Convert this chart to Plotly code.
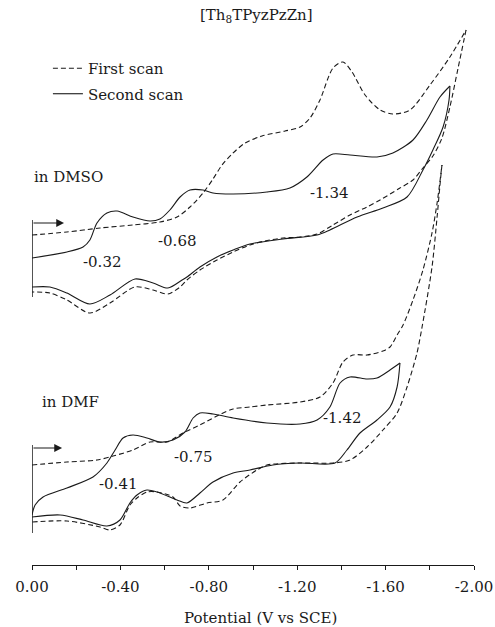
import plotly.graph_objects as go

# Cyclic voltammograms of [Th8TPyzPzZn] in DMSO and DMF.
# Potential in V vs SCE; current in arbitrary units (each solvent's pair of
# scans is offset vertically, DMSO above DMF).

# ---- DMSO, first scan (dashed) ----
dmso1_fwd_E = [0.000, -0.158, -0.308, -0.457, -0.579, -0.656, -0.715, -0.774, -0.819,
               -0.860, -0.905, -0.964, -1.041, -1.145, -1.213, -1.258, -1.303, -1.362,
               -1.407, -1.448, -1.507, -1.575, -1.633, -1.710, -1.801, -1.891, -1.964]
dmso1_fwd_I = [330, 333, 337, 340, 343, 348, 358, 372, 386,
               400, 411, 422, 429, 434, 438, 447, 465, 497,
               503, 493, 470, 455, 451, 455, 480, 508, 535]
dmso1_rev_E = [-1.964, -1.928, -1.891, -1.855, -1.814, -1.769, -1.724, -1.665, -1.575,
               -1.516, -1.439, -1.362, -1.290, -1.213, -1.136, -1.054, -0.986, -0.910,
               -0.837, -0.760, -0.701, -0.670, -0.615, -0.548, -0.466, -0.353, -0.262,
               -0.158, -0.081, 0.000]
dmso1_rev_I = [535, 497, 458, 427, 409, 397, 385, 377, 365,
               358, 350, 340, 331, 328, 327, 324, 320, 313,
               305, 295, 285, 278, 271, 275, 278, 262, 252,
               265, 272, 273]

# ---- DMSO, second scan (solid) ----
dmso2_fwd_E = [0.000, -0.158, -0.231, -0.262, -0.294, -0.339, -0.385, -0.457, -0.534,
               -0.579, -0.624, -0.670, -0.715, -0.774, -0.819, -0.910, -1.063, -1.167,
               -1.244, -1.317, -1.362, -1.439, -1.561, -1.633, -1.724, -1.787, -1.846,
               -1.891]
dmso2_fwd_I = [307, 313, 318, 325, 342, 352, 354, 348, 344,
               346, 355, 368, 375, 375, 372, 371, 373, 377,
               388, 405, 411, 410, 408, 412, 425, 445, 468,
               479]
dmso2_rev_E = [-1.891, -1.887, -1.860, -1.814, -1.769, -1.697, -1.588, -1.471, -1.348,
               -1.290, -1.136, -0.986, -0.910, -0.837, -0.760, -0.701, -0.679, -0.615,
               -0.548, -0.466, -0.353, -0.262, -0.158, -0.081, 0.000]
dmso2_rev_I = [479, 465, 438, 415, 395, 368, 357, 348, 335,
               330, 326, 321, 315, 308, 298, 288, 285, 277,
               282, 286, 270, 261, 272, 278, 278]

# ---- DMF, first scan (dashed) ----
dmf1_fwd_E = [0.000, -0.158, -0.294, -0.367, -0.457, -0.534, -0.611, -0.683, -0.760,
              -0.837, -0.910, -0.986, -1.063, -1.213, -1.303, -1.362, -1.407, -1.452,
              -1.516, -1.588, -1.620, -1.652, -1.679, -1.724, -1.769, -1.810, -1.833,
              -1.855]
dmf1_fwd_I = [100, 103, 105, 109, 115, 123, 123, 132, 140,
              149, 156, 158, 160, 163, 168, 182, 203, 210,
              210, 214, 218, 230, 240, 265, 295, 332, 362,
              400]
dmf1_rev_E = [-1.855, -1.846, -1.833, -1.810, -1.765, -1.742, -1.697, -1.652, -1.588,
              -1.516, -1.439, -1.362, -1.213, -1.063, -1.018, -0.941, -0.864, -0.792,
              -0.715, -0.670, -0.638, -0.566, -0.520, -0.475, -0.443, -0.398, -0.353,
              -0.308, -0.158, 0.000]
dmf1_rev_I = [400, 380, 348, 298, 238, 212, 178, 152, 135,
              118, 105, 102, 102, 100, 95, 83, 65, 62,
              57, 59, 68, 73, 73, 67, 60, 40, 35,
              38, 44, 43]

# ---- DMF, second scan (solid) ----
dmf2_fwd_E = [0.000, -0.014, -0.050, -0.158, -0.276, -0.339, -0.376, -0.412, -0.457,
              -0.520, -0.579, -0.638, -0.692, -0.729, -0.760, -0.819, -0.910, -1.063,
              -1.213, -1.290, -1.348, -1.394, -1.439, -1.516, -1.561, -1.620, -1.665]
dmf2_fwd_I = [50, 60, 68, 77, 88, 102, 115, 127, 130,
              127, 123, 125, 133, 147, 152, 151, 147, 142,
              141, 145, 158, 182, 188, 186, 187, 195, 202]
dmf2_rev_E = [-1.665, -1.652, -1.620, -1.561, -1.484, -1.425, -1.371, -1.213, -1.090,
              -0.986, -0.910, -0.819, -0.760, -0.701, -0.656, -0.566, -0.520, -0.475,
              -0.443, -0.398, -0.339, -0.231, -0.127, 0.000]
dmf2_rev_I = [202, 178, 158, 145, 132, 115, 102, 102, 100,
              95, 92, 83, 72, 62, 65, 73, 75, 70,
              62, 45, 39, 45, 50, 48]

# Current-axis stubs at the start potential and scan-direction arrows
stub_dmso_I = [268, 345]
stub_dmf_I = [32, 120]
arrow_dmso = dict(E0=0.0, E1=-0.145, I=342)
arrow_dmf = dict(E0=0.0, E1=-0.136, I=117)

# Half-wave potential labels: (text, E, I)
peak_labels = [("-0.32", -0.317, 303), ("-0.68", -0.656, 324), ("-1.34", -1.344, 372),
               ("-0.41", -0.387, 81), ("-0.75", -0.729, 108), ("-1.42", -1.403, 147)]

tick_vals = [0.0, -0.4, -0.8, -1.2, -1.6, -2.0]
tick_text = ["0.00", "-0.40", "-0.80", "-1.20", "-1.60", "-2.00"]

FONT = "DejaVu Serif"
FS = 15
INK = "#1a1a1a"
DASH = "5px,3px"

fig = go.Figure()


def add_scan(E, I, dashed, name, show):
    fig.add_trace(go.Scatter(
        x=E, y=I, mode="lines", name=name, legendgroup=name, showlegend=show,
        line=dict(color=INK, width=1.1, dash=DASH if dashed else "solid",
                  shape="spline", smoothing=0.8),
        hoverinfo="skip"))


add_scan(dmso1_fwd_E, dmso1_fwd_I, True, "First scan", True)
add_scan(dmso1_rev_E, dmso1_rev_I, True, "First scan", False)
add_scan(dmso2_fwd_E, dmso2_fwd_I, False, "Second scan", True)
add_scan(dmso2_rev_E, dmso2_rev_I, False, "Second scan", False)
add_scan(dmf1_fwd_E, dmf1_fwd_I, True, "First scan", False)
add_scan(dmf1_rev_E, dmf1_rev_I, True, "First scan", False)
add_scan(dmf2_fwd_E, dmf2_fwd_I, False, "Second scan", False)
add_scan(dmf2_rev_E, dmf2_rev_I, False, "Second scan", False)

for stub in (stub_dmso_I, stub_dmf_I):
    fig.add_shape(type="line", xref="x", yref="y", x0=0, x1=0, y0=stub[0], y1=stub[1],
                  line=dict(color=INK, width=1.5))

for arr in (arrow_dmso, arrow_dmf):
    fig.add_annotation(x=arr["E1"], y=arr["I"], ax=arr["E0"], ay=arr["I"],
                       xref="x", yref="y", axref="x", ayref="y", text="",
                       showarrow=True, arrowhead=2, arrowsize=1.3, arrowwidth=1.2,
                       arrowcolor=INK)

text_font = dict(family=FONT, size=FS, color=INK)

for txt, e, i in peak_labels:
    fig.add_annotation(x=e, y=i, text=txt, showarrow=False, xref="x", yref="y",
                       font=text_font)

fig.add_annotation(x=0.0, y=388, text="in DMSO", showarrow=False, xref="x", yref="y",
                   xanchor="left", font=text_font)
fig.add_annotation(x=-0.036, y=163, text="in DMF", showarrow=False, xref="x", yref="y",
                   xanchor="left", font=text_font)
fig.add_annotation(x=-1.014, y=550, text="[Th<sub>8</sub>TPyzPzZn]", showarrow=False,
                   xref="x", yref="y", font=text_font)
fig.add_annotation(x=-1.032, y=-0.094, text="Potential (V vs SCE)", showarrow=False,
                   xref="x", yref="paper", yanchor="middle", font=text_font)

fig.update_layout(
    width=495, height=627,
    margin=dict(l=32, r=21, t=0, b=62),
    plot_bgcolor="white", paper_bgcolor="white",
    font=text_font,
    showlegend=True,
    legend=dict(x=0.036, y=0.908, xanchor="left", yanchor="top",
                bgcolor="rgba(0,0,0,0)", font=text_font,
                tracegroupgap=3, itemwidth=30),
)
fig.update_xaxes(range=[0.0, -2.0], showline=True, linecolor=INK, linewidth=1.2,
                 ticks="outside", ticklen=4, tickwidth=1.2, tickcolor=INK,
                 tickvals=tick_vals, ticktext=tick_text, showgrid=False, zeroline=False,
                 minor=dict(tickvals=[-0.2, -0.6, -1.0, -1.4, -1.8], ticks="outside",
                            ticklen=4, tickwidth=1.2, tickcolor=INK),
                 tickfont=text_font, ticklabelstandoff=4, automargin=False)
fig.update_yaxes(range=[0, 565], visible=False, showgrid=False, zeroline=False)

fig.write_html("out.html")
